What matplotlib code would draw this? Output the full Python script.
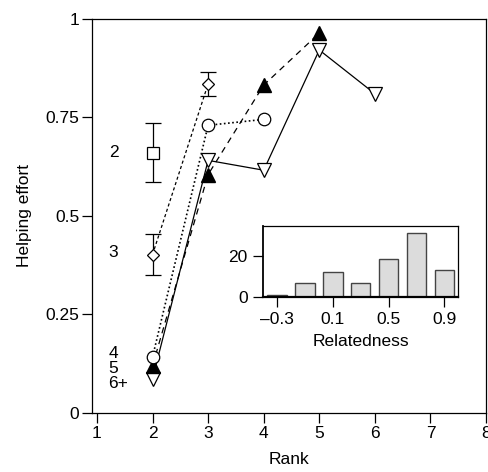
import numpy as np
import matplotlib
matplotlib.use("Agg")
import matplotlib.pyplot as plt

plt.rcParams['font.family'] = ['Liberation Sans', 'DejaVu Sans']

# helping effort by rank, one series per group size
rank_sq = [2]
eff_sq = [0.66]
err_sq = [0.075]

rank_dia = [2, 3]
eff_dia = [0.402, 0.835]
err_dia = [0.052, 0.031]

rank_circ = [2, 3, 4]
eff_circ = [0.142, 0.73, 0.745]

rank_tri = [2, 3, 4, 5]
eff_tri = [0.12, 0.605, 0.832, 0.964]

rank_dtri = [2, 3, 4, 5, 6]
eff_dtri = [0.087, 0.641, 0.616, 0.921, 0.81]

group_labels = ["2", "3", "4", "5", "6+"]

# inset histogram
rel_centres = [-0.3, -0.1, 0.1, 0.3, 0.5, 0.7, 0.9]
rel_counts = [1, 7, 12.5, 7, 18.5, 31.5, 13.5]
rel_ticks = [-0.3, 0.1, 0.5, 0.9]
rel_ticklabels = ["\u20130.3", "0.1", "0.5", "0.9"]

fig = plt.figure(figsize=(4.89, 4.72), dpi=100)
ax = fig.add_axes([0.188, 0.125, 0.806, 0.835])

fs = 12.5
ax.errorbar(rank_sq, eff_sq, yerr=err_sq, fmt='s', mfc='white', mec='black',
            ms=8, ecolor='black', elinewidth=0.9, capsize=6, capthick=0.9, mew=0.9)
ax.errorbar(rank_dia, eff_dia, yerr=err_dia, fmt='D', mfc='white', mec='black',
            ms=6.5, ecolor='black', elinewidth=0.9, capsize=6, capthick=0.9, mew=0.9,
            ls=(0, (2.5, 2)), color='black', lw=0.9)
ax.plot(rank_dtri, eff_dtri, color='black', lw=0.9, ls='-', marker='v', ms=10,
        mfc='white', mec='black', mew=0.9)
ax.plot(rank_tri, eff_tri, color='black', lw=0.9, ls=(0, (5, 4)), marker='^', ms=10,
        mfc='black', mec='black')
ax.plot(rank_circ, eff_circ, color='black', lw=1.2, ls=(0, (1, 1.5)), marker='o', ms=9,
        mfc='white', mec='black', mew=0.9)

ax.text(1.3, eff_sq[0], group_labels[0], fontsize=fs, ha='center', va='center')
ax.text(1.3, eff_dia[0] + 0.005, group_labels[1], fontsize=fs, ha='center', va='center')
ax.text(1.29, 0.150, group_labels[2], fontsize=fs, ha='center', va='center')
ax.text(1.29, 0.114, group_labels[3], fontsize=fs, ha='center', va='center')
ax.text(1.38, 0.074, group_labels[4], fontsize=fs, ha='center', va='center')

ax.set_xlim(0.91, 8)
ax.set_ylim(0, 1)
ax.set_xticks(range(1, 9))
ax.set_yticks([0, 0.25, 0.5, 0.75, 1])
ax.set_yticklabels(["0", "0.25", "0.5", "0.75", "1"])
ax.tick_params(direction='out', length=7, width=0.9, labelsize=fs, pad=2)
for s in ax.spines.values():
    s.set_linewidth(0.9)
ax.set_xlabel("Rank", fontsize=fs, labelpad=8)
ax.set_ylabel("Helping effort", fontsize=fs, labelpad=10)

ins = fig.add_axes([0.538, 0.371, 0.399, 0.150])
ins.bar(rel_centres, rel_counts, width=0.14, color='#dcdcdc', edgecolor='#444444', lw=1)
ins.set_xlim(-0.4, 1.0)
ins.set_ylim(0, 35)
ins.set_yticks([0, 20])
ins.set_xticks(rel_ticks)
ins.set_xticklabels(rel_ticklabels)
ins.tick_params(direction='out', length=7, width=0.9, labelsize=fs, pad=4)
for s in ins.spines.values():
    s.set_linewidth(0.9)
ins.spines['bottom'].set_linewidth(1.6)
ins.spines['left'].set_linewidth(1.3)
ins.set_xlabel("Relatedness", fontsize=fs, labelpad=5)

fig.savefig("out.png", dpi=100)
